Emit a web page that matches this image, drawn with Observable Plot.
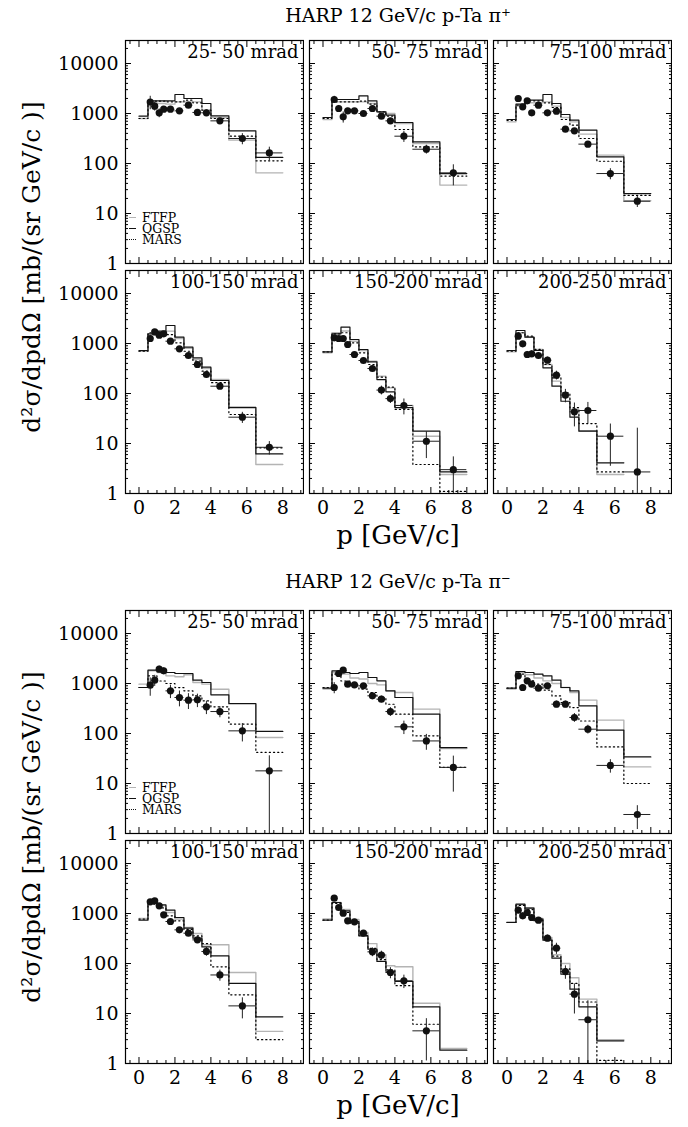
<!DOCTYPE html>
<html><head><meta charset="utf-8">
<script src="https://cdn.jsdelivr.net/npm/d3@7"></script>
<script src="https://cdn.jsdelivr.net/npm/@observablehq/plot@0.6"></script>
<style>
body{margin:0;background:#fff;}
#root{position:relative;width:688px;height:1127px;font-family:"DejaVu Serif",serif;color:#000;overflow:hidden;}
.abs{position:absolute;white-space:nowrap;}
sup{font-size:0.62em;vertical-align:0.55em;line-height:0;}
</style></head><body><div id="root"></div>
<script>
// ---- binning ----
const histEdges = [0, 0.5, 1, 1.5, 2, 2.5, 3, 3.5, 4, 5, 6.5, 8];
const pLo = [0.5, 0.75, 1.0, 1.25, 1.5, 2.0, 2.5, 3.0, 3.5, 4.0, 5.0, 6.5];
const pHi = [0.75, 1.0, 1.25, 1.5, 2.0, 2.5, 3.0, 3.5, 4.0, 5.0, 6.5, 8.0];
const angleLabels = ["25- 50 mrad", "50- 75 mrad", "75-100 mrad", "100-150 mrad", "150-200 mrad", "200-250 mrad"];
const yTickValues = [1, 10, 100, 1000, 10000];
const xTickValues = [0, 2, 4, 6, 8];
const legendNames = ["FTFP", "QGSP", "MARS"];

// ---- pi+ ----
const pipData = [
  [1700, 1400, 1030, 1220, 1220, 1130, 1470, 1050, 1030, 713, 316, 163],
  [1905, 1259, 858, 1130, 1130, 1000, 1259, 885, 713, 352, 193, 65],
  [1995, 1359, 1792, 1031, 1468, 1031, 1113, 486, 450, 244, 63, 17.6],
  [1259, 1710, 1468, 1560, 1113, 782, 575, 380, 240, 140, 33.6, 8.4],
  [1298, 1259, 1259, 955, 603, 457, 316, 117, 79, 57.5, 11.1, 3.0],
  [1403, 985, 603, 621, 575, 464, 233, 93, 43, 45.7, 14, 2.7]
];
const pipErr = [
  [0.3, 0.2, 0.2, 0.12, 0.12, 0.12, 0.1, 0.12, 0.12, 0.12, 0.25, 0.3],
  [0.16, 0.15, 0.25, 0.12, 0.1, 0.1, 0.1, 0.12, 0.12, 0.25, 0.2, 0.45],
  [0.12, 0.1, 0.1, 0.1, 0.1, 0.08, 0.08, 0.1, 0.1, 0.12, 0.25, 0.25],
  [0.15, 0.1, 0.1, 0.1, 0.1, 0.1, 0.1, 0.1, 0.15, 0.12, 0.25, 0.3],
  [0.12, 0.1, 0.1, 0.1, 0.1, 0.1, 0.12, 0.2, 0.2, 0.35, 0.55, 0.8],
  [0.15, 0.12, 0.15, 0.15, 0.15, 0.15, 0.2, 0.3, 0.5, 0.45, 0.75, 6.5]
];
const pipFTFP = [
  [794, 1635, 1585, 1538, 1710, 1710, 1710, 1166, 832, 293, 65],
  [759, 1710, 1710, 1710, 1710, 1585, 1080, 1000, 631, 251, 37],
  [681, 1403, 1635, 1635, 1710, 1403, 832, 681, 386, 147, 18],
  [700, 1468, 1640, 1765, 1259, 800, 480, 316, 190, 51, 3.8],
  [650, 1640, 1780, 1113, 724, 445, 222, 130, 58, 14, 2.4],
  [680, 1640, 1340, 760, 380, 177, 84, 48, 18, 2.4, null]
];
const pipQGSP = [
  [885, 1790, 1790, 1790, 2400, 1995, 1995, 1585, 898, 450, 132],
  [832, 1905, 1905, 1905, 2256, 1792, 1080, 926, 661, 271, 63],
  [759, 1538, 1848, 1848, 2400, 1585, 955, 736, 464, 136, 25],
  [724, 1560, 1765, 2291, 1340, 845, 517, 336, 182, 53, 6.2],
  [681, 1560, 2122, 1202, 759, 430, 190, 108, 52, 17.6, 2.7],
  [724, 1820, 1340, 724, 326, 140, 70, 33.6, 17.6, 4.1, null]
];
const pipMARS = [
  [794, 1765, 1765, 1710, 1710, 1848, 1635, 1166, 794, 352, 113],
  [800, 1710, 1710, 1710, 1770, 1540, 1080, 890, 479, 215, 56],
  [730, 1468, 1792, 1792, 1635, 1318, 759, 584, 316, 111, 23],
  [700, 1640, 1710, 1500, 1030, 700, 445, 280, 165, 38, 8.2],
  [680, 1560, 1640, 1030, 650, 380, 212, 134, 48, 3.8, 1.1],
  [700, 1640, 1400, 760, 380, 205, 103, 52, 25, 2.7, null]
];

// ---- pi- ----
const pimData = [
  [926, 1166, 1935, 1792, 713, 525, 464, 471, 341, 275, 113, 17.9],
  [832, 1585, 1848, 970, 940, 898, 567, 486, 275, 136, 71, 21],
  [1422, 832, 1130, 970, 807, 898, 386, 386, 209, 122, 23, 2.4],
  [1710, 1792, 1422, 940, 692, 471, 404, 297, 174, 59, 14.2],
  [2026, 1318, 1016, 713, 681, 404, 171, 147, 66, 45, 4.5],
  [1166, 898, 1047, 832, 736, 321, 203, 69, 24.4, 7.5]
];
const pimErr = [
  [0.4, 0.25, 0.15, 0.15, 0.3, 0.35, 0.35, 0.3, 0.3, 0.25, 0.4, 1.0],
  [0.25, 0.12, 0.1, 0.1, 0.1, 0.1, 0.15, 0.15, 0.2, 0.3, 0.35, 0.68],
  [0.15, 0.1, 0.1, 0.1, 0.1, 0.1, 0.15, 0.15, 0.2, 0.2, 0.3, 0.5],
  [0.1, 0.1, 0.1, 0.1, 0.1, 0.1, 0.1, 0.15, 0.2, 0.25, 0.45],
  [0.1, 0.1, 0.1, 0.1, 0.1, 0.12, 0.2, 0.2, 0.25, 0.3, 0.75],
  [0.15, 0.15, 0.1, 0.1, 0.1, 0.15, 0.25, 0.3, 0.6, 1.4]
];
const pimFTFP = [
  [970, 1792, 1660, 1422, 1360, 1500, 1047, 970, 770, 386, 83],
  [775, 1660, 1540, 1288, 1230, 1000, 940, 713, 661, 307, 50],
  [775, 1660, 1500, 1288, 1130, 1000, 832, 661, 464, 185, 21.5],
  [800, 1660, 1422, 1047, 775, 525, 398, 237, 237, 66, 4.4],
  [780, 1660, 1200, 760, 420, 250, 150, 90, 86, 16, 2],
  [680, 1500, 1300, 800, 330, 150, 100, 52, 19.4, 3.0, null]
];
const pimQGSP = [
  [832, 1848, 1848, 1660, 1585, 1585, 1166, 1047, 593, 398, 110],
  [807, 1792, 1660, 1585, 1660, 1318, 1130, 713, 525, 244, 52],
  [807, 1738, 1660, 1538, 1422, 1166, 832, 713, 357, 117, 34],
  [736, 1792, 1490, 1166, 832, 509, 321, 215, 142, 40, 8.6],
  [736, 1660, 1130, 692, 357, 193, 110, 70, 44, 13.6, 1.85],
  [661, 1538, 1279, 770, 293, 128, 61, 30.7, 13.6, 2.84, null]
];
const pimMARS = [
  [832, 1422, 1122, 1000, 830, 713, 565, 450, 341, 154, 42],
  [832, 1540, 1122, 900, 775, 660, 525, 385, 244, 90, 21],
  [807, 1540, 1130, 970, 738, 565, 415, 330, 178, 54, 10],
  [775, 1540, 1290, 900, 713, 480, 357, 250, 86, 23.6, 3.0],
  [740, 1600, 1050, 640, 360, 200, 120, 75, 36, 6.1, null],
  [661, 1450, 1200, 720, 300, 140, 78, 40, 17, 1.15, null]
];

// ---- layout ----
const FW = 178, FH = 223;
const frameLeft = [125, 309, 493];
const groups = [
  {title: "HARP 12 GeV/c p-Ta π<sup>+</sup>", titleTop: 4, tops: [40, 270], xlabTop: 520,
   data: pipData, err: pipErr, ftfp: pipFTFP, qgsp: pipQGSP, mars: pipMARS},
  {title: "HARP 12 GeV/c p-Ta π<sup>−</sup>", titleTop: 570, tops: [610, 840], xlabTop: 1090,
   data: pimData, err: pimErr, ftfp: pimFTFP, qgsp: pimQGSP, mars: pimMARS}
];
const xDomain = [-0.75, 9.15];
const yDomain = [1, Math.pow(10, 4.46)];
const yMinor = [];
for (const d of [1, 10, 100, 1000, 10000]) for (let m = 2; m <= 9; m++) if (d * m < yDomain[1]) yMinor.push(d * m);
const xMinor = [-0.5, 0.5, 1, 1.5, 2.5, 3, 3.5, 4.5, 5, 5.5, 6.5, 7, 7.5, 8.5, 9];

const root = document.getElementById("root");
function addDiv(html, css) {
  const d = document.createElement("div");
  d.className = "abs";
  d.innerHTML = html;
  Object.assign(d.style, css);
  root.appendChild(d);
  return d;
}
function steps(arr) {
  const out = [];
  arr.forEach((v, i) => { if (v != null) out.push({x: histEdges[i], y: v}); });
  out.push({x: histEdges[out.length], y: out[out.length - 1].y});
  return out;
}
const blank = () => "";

groups.forEach((G, g) => {
  addDiv(G.title, {left: frameLeft[0] + "px", width: (frameLeft[2] + FW - frameLeft[0]) + "px", textAlign: "center", top: G.titleTop + "px", fontSize: "19px"});
  for (let i = 0; i < 6; i++) {
    const r = Math.floor(i / 3), c = i % 3;
    const ml = c === 0 ? 80 : 1, mb = r === 1 ? 40 : 14, mt = 1, mr = 1;
    const vals = G.data[i], errs = G.err[i];
    const pts = vals.map((v, k) => ({
      x: (pLo[k] + pHi[k]) / 2, lo: pLo[k], hi: pHi[k], y: v,
      y1: Math.max(v * (1 - errs[k]), 0.2), y2: v * (1 + errs[k])
    }));
    const fmtY = c === 0 ? (d => String(d)) : blank;
    const fmtX = r === 1 ? (d => String(d)) : blank;
    const chart = Plot.plot({
      width: FW + ml + mr, height: FH + mt + mb,
      marginLeft: ml, marginRight: mr, marginTop: mt, marginBottom: mb,
      x: {domain: xDomain, label: null},
      y: {type: "log", domain: yDomain, label: null},
      style: {fontFamily: "DejaVu Serif", fontSize: "19px", background: "transparent", color: "#000"},
      marks: [
        Plot.line(steps(G.ftfp[i]), {x: "x", y: "y", curve: "step-after", stroke: "#b4b4b4", strokeWidth: 1.4, clip: true}),
        Plot.line(steps(G.mars[i]), {x: "x", y: "y", curve: "step-after", stroke: "#000", strokeWidth: 1.2, strokeDasharray: "1.2 3", clip: true}),
        Plot.line(steps(G.qgsp[i]), {x: "x", y: "y", curve: "step-after", stroke: "#111", strokeWidth: 1.2, clip: true}),
        Plot.ruleY(pts, {y: "y", x1: "lo", x2: "hi", stroke: "#222", strokeWidth: 1}),
        Plot.ruleX(pts, {x: "x", y1: "y1", y2: "y2", stroke: "#222", strokeWidth: 1, clip: true}),
        Plot.dot(pts, {x: "x", y: "y", r: 3.6, fill: "#111", stroke: "none"}),
        Plot.frame({stroke: "#000", strokeWidth: 1.2}),
        Plot.axisY({anchor: "left", ticks: yTickValues, tickSize: -6, tickPadding: 13, tickFormat: fmtY, label: null}),
        Plot.axisY({anchor: "right", ticks: yTickValues, tickSize: -6, tickFormat: blank, label: null}),
        Plot.axisY({anchor: "left", ticks: yMinor, tickSize: -3, tickFormat: blank, label: null}),
        Plot.axisY({anchor: "right", ticks: yMinor, tickSize: -3, tickFormat: blank, label: null}),
        Plot.axisX({anchor: "bottom", ticks: xTickValues, tickSize: -6, tickPadding: 13, tickFormat: fmtX, label: null}),
        Plot.axisX({anchor: "top", ticks: xTickValues, tickSize: -6, tickFormat: blank, label: null}),
        Plot.axisX({anchor: "bottom", ticks: xMinor, tickSize: -3, tickFormat: blank, label: null}),
        Plot.axisX({anchor: "top", ticks: xMinor, tickSize: -3, tickFormat: blank, label: null}),
        Plot.text([angleLabels[i]], {frameAnchor: "top-right", dx: -5, dy: 5, lineAnchor: "top", textAnchor: "end", fontSize: 18})
      ]
    });
    chart.style.position = "absolute";
    chart.style.left = (frameLeft[c] - ml) + "px";
    chart.style.top = (G.tops[r] - mt) + "px";
    root.appendChild(chart);
    if (i === 0) {
      const bottom = G.tops[0] + FH;
      const rowsHtml = legendNames.map((n, k) => {
        const st = k === 0 ? "border-top:1.4px solid #b4b4b4" : k === 1 ? "border-top:1.4px solid #111" : "border-top:1.4px dotted #111";
        return `<div style="height:11px;line-height:11px;display:flex;align-items:center;overflow:visible;"><span style="display:inline-block;width:7px;margin-right:6px;${st}"></span><span style="line-height:11px;">${n}</span></div>`;
      }).join("");
      addDiv(rowsHtml, {left: (frameLeft[0] + 4) + "px", top: (bottom - 51) + "px", fontSize: "12.5px", lineHeight: "11px"});
    }
  }
  addDiv("p [GeV/c]", {left: frameLeft[0] + "px", width: (frameLeft[2] + FW - frameLeft[0]) + "px", textAlign: "center", top: G.xlabTop + "px", fontSize: "26px"});
  const cy = (G.tops[0] + G.tops[1] + FH) / 2;
  addDiv("d²σ/dpdΩ [mb/(sr GeV/c )]", {left: "31px", top: cy + "px", fontSize: "25px", transform: "translate(-50%,-50%) rotate(-90deg)"});
});
</script></body></html>
